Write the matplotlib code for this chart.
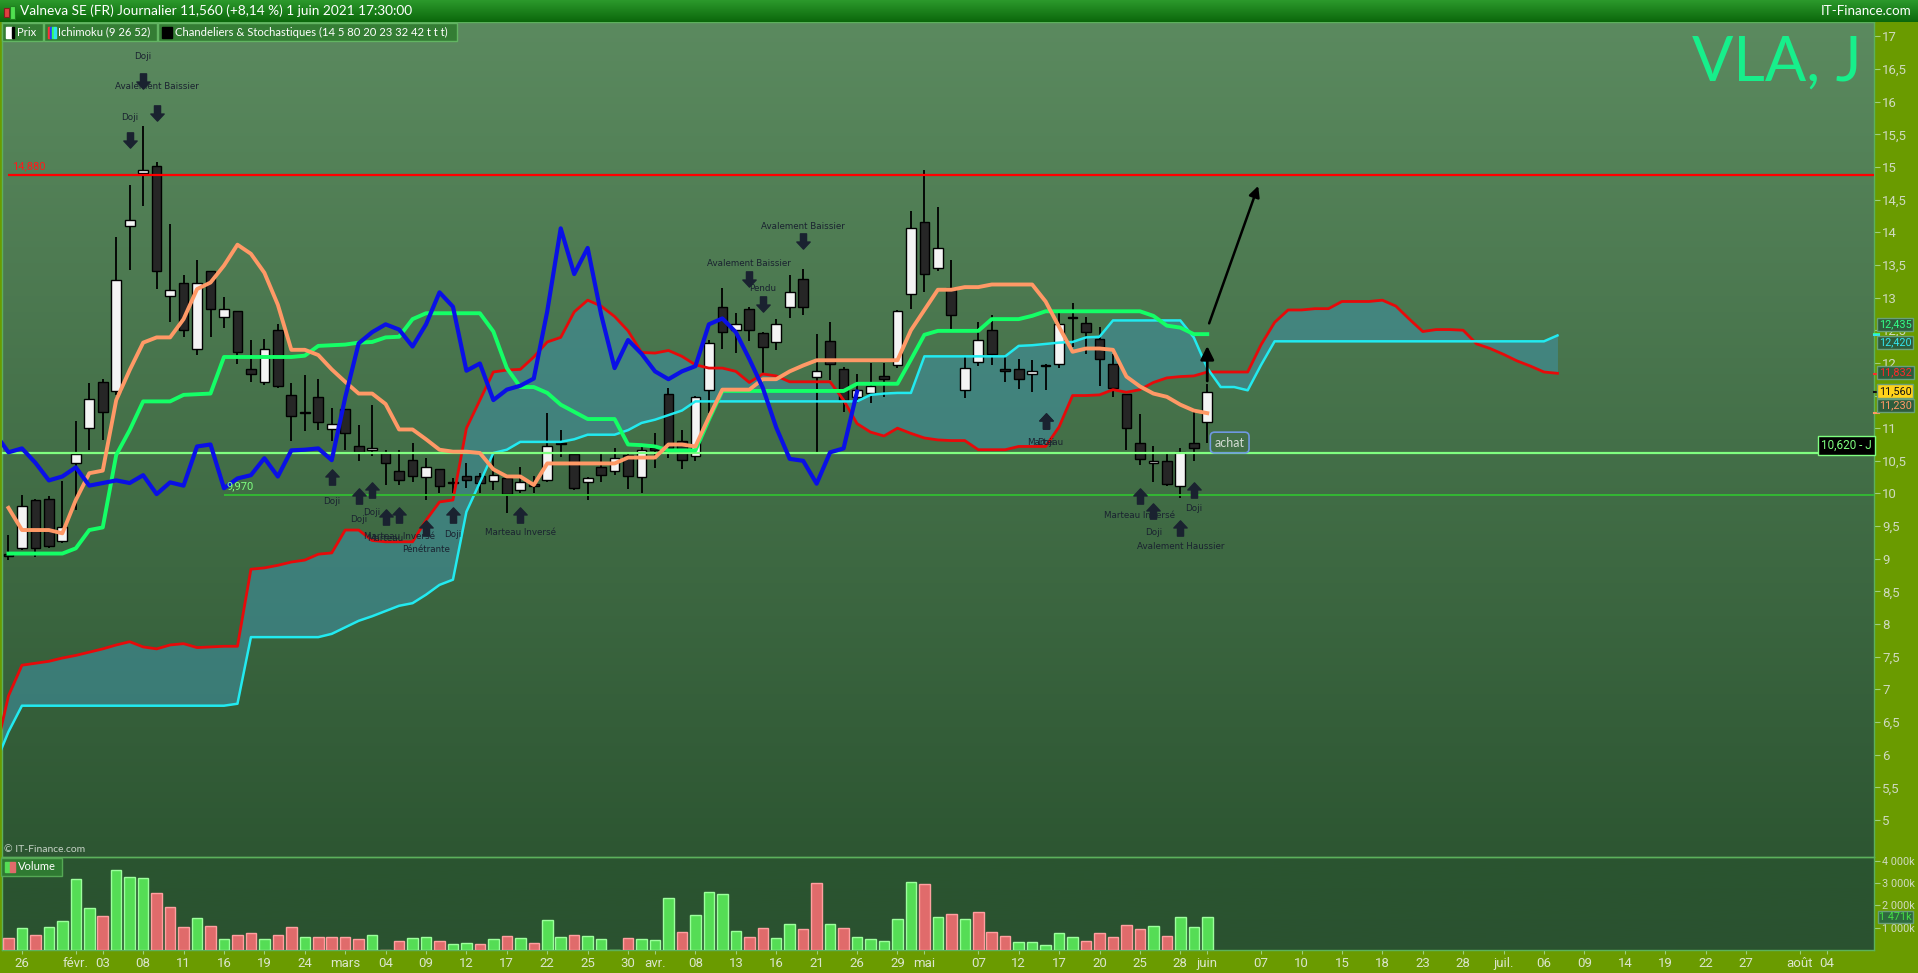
import numpy as np
import pandas as pd
import matplotlib
matplotlib.use("Agg")
import matplotlib.pyplot as plt
import matplotlib.colors as mcolors
from matplotlib.path import Path
from matplotlib import transforms
from matplotlib.patches import Rectangle

W, H = 1918, 973

# ---------------- data (Valneva, daily) ----------------
opens = [9.08, 9.16, 9.90, 9.92, 9.27, 10.46, 11.00, 11.71, 11.57, 14.10,
         14.90, 15.02, 13.02, 13.23, 12.22, 13.41, 12.70, 12.79, 11.91, 11.70,
         12.50, 11.51, 11.23, 11.47, 10.99, 11.29, 10.72, 10.67, 10.62, 10.34,
         10.51, 10.25, 10.37, 10.17, 10.27, 10.26, 10.19, 10.24, 10.05, 10.13,
         10.21, 10.76, 10.60, 10.17, 10.40, 10.34, 10.59, 10.25, 10.68, 11.52,
         10.80, 10.57, 11.58, 12.86, 12.50, 12.83, 12.45, 12.32, 12.86, 13.29,
         11.78, 12.34, 11.91, 11.48, 11.54, 11.80, 11.97, 13.05, 14.16, 13.45,
         13.14, 11.59, 12.01, 12.50, 11.91, 11.91, 11.83, 11.97, 11.98, 12.70,
         12.61, 12.37, 11.99, 11.52, 10.77, 10.46, 10.50, 10.11, 10.77, 11.09]
highs = [9.37, 9.98, 9.92, 9.96, 10.19, 11.11, 11.69, 11.75, 13.92, 14.72,
         15.62, 15.08, 14.13, 13.35, 13.58, 13.41, 13.01, 12.80, 12.35, 12.36,
         12.60, 11.69, 11.81, 11.75, 11.31, 11.30, 11.05, 11.36, 10.66, 10.67,
         10.78, 10.55, 10.38, 10.23, 10.46, 10.32, 10.62, 10.26, 10.41, 10.26,
         11.23, 10.97, 10.62, 10.25, 10.62, 10.69, 10.64, 10.72, 10.92, 11.61,
         10.97, 11.49, 12.35, 13.14, 12.77, 12.85, 12.47, 12.67, 13.35, 13.44,
         12.44, 12.62, 11.94, 11.83, 12.00, 12.00, 12.81, 14.32, 14.95, 14.38,
         13.58, 12.10, 12.62, 12.73, 12.10, 12.06, 12.04, 11.98, 12.76, 12.91,
         12.71, 12.55, 12.14, 11.53, 11.21, 10.73, 10.62, 10.69, 11.27, 11.68]
lows = [8.98, 9.14, 9.03, 9.16, 9.24, 9.75, 10.67, 10.82, 11.51, 13.42,
        14.40, 13.13, 12.62, 12.40, 12.12, 12.39, 12.53, 11.99, 11.70, 11.66,
        11.61, 10.80, 10.95, 10.97, 10.80, 10.67, 10.49, 10.57, 10.13, 10.13,
        10.17, 9.90, 10.00, 10.00, 10.08, 10.01, 10.05, 9.70, 10.00, 10.00,
        10.17, 10.56, 10.06, 9.90, 10.18, 10.28, 10.07, 10.00, 10.39, 10.55,
        10.37, 10.49, 11.23, 12.22, 12.15, 12.33, 11.84, 12.19, 12.68, 12.73,
        10.64, 11.74, 11.25, 11.38, 11.38, 11.47, 11.92, 12.82, 13.08, 13.40,
        12.50, 11.46, 11.95, 11.97, 11.70, 11.60, 11.56, 11.58, 11.92, 12.25,
        12.14, 11.64, 11.47, 10.67, 10.44, 10.17, 10.11, 9.93, 10.50, 10.77]
closes = [9.05, 9.81, 9.17, 9.20, 9.48, 10.60, 11.45, 11.25, 13.27, 14.19,
          14.96, 13.40, 13.11, 12.50, 13.22, 12.82, 12.83, 12.16, 11.83, 12.22,
          11.65, 11.19, 11.24, 11.10, 11.06, 10.92, 10.63, 10.69, 10.47, 10.20,
          10.26, 10.40, 10.12, 10.16, 10.20, 10.16, 10.28, 9.99, 10.17, 10.12,
          10.72, 10.75, 10.08, 10.23, 10.28, 10.54, 10.26, 10.66, 10.67, 10.69,
          10.51, 11.47, 12.30, 12.47, 12.59, 12.51, 12.25, 12.59, 13.08, 12.86,
          11.88, 11.99, 11.43, 11.59, 11.65, 11.76, 12.79, 14.06, 13.36, 13.76,
          12.74, 11.92, 12.35, 12.14, 11.87, 11.75, 11.87, 11.95, 12.59, 12.68,
          12.47, 12.06, 11.62, 11.01, 10.53, 10.50, 10.15, 10.63, 10.69, 11.56]

# volume in millions, and bar colour (1 = green, 0 = red)
volumes_m = [0.52, 0.97, 0.66, 1.02, 1.30, 3.17, 1.87, 1.51, 3.57, 3.26,
             3.21, 2.54, 1.91, 1.02, 1.42, 1.06, 0.48, 0.66, 0.75, 0.48,
             0.66, 1.02, 0.57, 0.57, 0.57, 0.57, 0.48, 0.66, 0.00, 0.39,
             0.52, 0.57, 0.39, 0.25, 0.30, 0.25, 0.48, 0.61, 0.52, 0.30,
             1.33, 0.57, 0.66, 0.61, 0.48, 0.00, 0.52, 0.48, 0.43, 2.31,
             0.79, 1.55, 2.58, 2.49, 0.84, 0.57, 0.97, 0.52, 1.15, 0.93,
             2.99, 1.15, 0.97, 0.57, 0.48, 0.39, 1.37, 3.03, 2.94, 1.46,
             1.60, 1.37, 1.69, 0.79, 0.61, 0.34, 0.34, 0.21, 0.75, 0.57,
             0.39, 0.75, 0.57, 1.10, 0.93, 1.06, 0.61, 1.46, 1.02, 1.47]
volume_up = ("0101111011" "1000101001" "0010000100" "1101101010"
             "1101110111" "0111100110" "0101111101" "0100011111"
             "0000010111")

# Ichimoku (9 26 52)
tenkan = [9.78, 9.44, 9.44, 9.44, 9.39, 9.90, 10.31, 10.35, 11.43, 11.89,
          12.31, 12.39, 12.39, 12.67, 13.13, 13.23, 13.49, 13.81, 13.67, 13.38,
          12.89, 12.20, 12.20, 12.12, 11.90, 11.71, 11.53, 11.53, 11.37, 10.98,
          10.98, 10.83, 10.67, 10.64, 10.64, 10.62, 10.37, 10.26, 10.26, 10.13,
          10.46, 10.46, 10.46, 10.46, 10.46, 10.46, 10.55, 10.55, 10.55, 10.75,
          10.75, 10.72, 11.17, 11.59, 11.59, 11.59, 11.75, 11.75, 11.87, 11.96,
          12.04, 12.04, 12.04, 12.04, 12.04, 12.04, 12.04, 12.50, 12.81, 13.12,
          13.12, 13.16, 13.16, 13.20, 13.20, 13.20, 13.20, 12.94, 12.55, 12.17,
          12.22, 12.22, 12.20, 11.79, 11.64, 11.53, 11.48, 11.36, 11.27, 11.23]
kijun = [9.08, 9.08, 9.08, 9.08, 9.08, 9.16, 9.44, 9.48, 10.59, 10.97,
         11.41, 11.41, 11.41, 11.51, 11.52, 11.53, 12.09, 12.09, 12.09, 12.09,
         12.09, 12.09, 12.11, 12.26, 12.27, 12.28, 12.31, 12.32, 12.39, 12.40,
         12.67, 12.76, 12.76, 12.76, 12.76, 12.76, 12.48, 11.92, 11.63, 11.63,
         11.54, 11.36, 11.25, 11.14, 11.14, 11.14, 10.75, 10.74, 10.72, 10.66,
         10.66, 10.66, 11.13, 11.57, 11.57, 11.57, 11.57, 11.57, 11.57, 11.57,
         11.57, 11.57, 11.57, 11.68, 11.68, 11.68, 11.68, 12.05, 12.43, 12.49,
         12.49, 12.49, 12.49, 12.67, 12.67, 12.67, 12.72, 12.79, 12.79, 12.79,
         12.79, 12.79, 12.79, 12.79, 12.79, 12.72, 12.57, 12.54, 12.44, 12.44]
# senkou spans: from one day before the first candle to 26 days past the last
senkou_a = [6.00, 6.90, 7.37, 7.40, 7.43, 7.48, 7.52, 7.57, 7.62, 7.68,
            7.73, 7.65, 7.62, 7.68, 7.70, 7.64, 7.65, 7.66, 7.66,
            8.84, 8.86, 8.90, 8.95, 8.98, 9.07, 9.09, 9.44, 9.44, 9.28,
            9.26, 9.26, 9.26, 9.59, 9.87, 9.90,
            11.00, 11.43, 11.86, 11.89, 11.90, 12.09, 12.32, 12.39, 12.78, 12.96,
            12.87, 12.71, 12.49, 12.16, 12.15, 12.19, 12.10, 11.97,
            11.92, 11.92, 11.87, 11.70, 11.83, 11.80, 11.71, 11.71, 11.71, 11.71,
            11.43, 11.07, 10.94, 10.88, 11.00, 10.92, 10.85, 10.82, 10.81, 10.81,
            10.67, 10.67, 10.67, 10.72, 10.72, 10.72, 11.02, 11.50, 11.50, 11.51,
            11.59, 11.55, 11.59, 11.70, 11.77, 11.79, 11.80, 11.86,
            11.86, 11.86, 11.86, 12.28, 12.62, 12.81, 12.81, 12.83, 12.83, 12.94,
            12.94, 12.94, 12.96, 12.87, 12.67, 12.48, 12.51, 12.51, 12.50, 12.29,
            12.22, 12.13, 12.03, 11.95, 11.86, 11.84]
senkou_b = [5.85, 6.35, 6.75, 6.75, 6.75, 6.75, 6.75, 6.75, 6.75, 6.75,
            6.75, 6.75, 6.75, 6.75, 6.75, 6.75, 6.75, 6.75, 6.78,
            7.80, 7.80, 7.80, 7.80, 7.80, 7.80, 7.85, 7.95, 8.05, 8.12,
            8.20, 8.28, 8.32, 8.45, 8.60, 8.68,
            9.72, 10.17, 10.62, 10.67, 10.79, 10.79, 10.79, 10.79, 10.83, 10.90,
            10.90, 10.90, 10.97, 11.08, 11.13, 11.20, 11.27, 11.41,
            11.41, 11.41, 11.41, 11.41, 11.41, 11.41, 11.41, 11.41, 11.41, 11.41,
            11.41, 11.41, 11.51, 11.53, 11.54, 11.54, 12.10, 12.10, 12.10, 12.10,
            12.10, 12.10, 12.10, 12.26, 12.27, 12.29, 12.31, 12.32, 12.39, 12.40,
            12.65, 12.65, 12.65, 12.65, 12.65, 12.65, 12.39, 11.92,
            11.63, 11.63, 11.58, 11.97, 12.33, 12.33, 12.33, 12.33, 12.33, 12.33,
            12.33, 12.33, 12.33, 12.33, 12.33, 12.33, 12.33, 12.33, 12.33, 12.33,
            12.33, 12.33, 12.33, 12.33, 12.33, 12.42]

resistance = 14.88
pivot = 10.62
support = 9.97
target = 14.75

# candle patterns: (day index, name, arrow offset px, text offset px)
bull_notes = [(24, "Doji", 36, 60), (26, "Doji", 35, 58), (27, "Doji", 34, 56),
              (28, "Marteau", 32, 54), (29, "Marteau Inversé", 30, 52),
              (31, "Pénétrante", 28, 49), (33, "Doji", 22, 41),
              (38, "Marteau Inversé", 22, 39), (77, "Marteau", 31, 52),
              (77, "Doji", 31, 52), (84, "Marteau Inversé", 31, 51),
              (85, "Doji", 29, 50), (87, "Avalement Haussier", 30, 48),
              (88, "Doji", 29, 48)]
bear_notes = [(9, "Doji", 45, 68), (10, "Doji", 45, 70),
              (11, "Avalement Baissier", 49, 75), (55, "Avalement Baissier", 28, 44),
              (56, "Pendu", 28, 44), (59, "Avalement Baissier", 28, 42)]

tick_dates = ["2021-01-26", "2021-02-01", "2021-02-03", "2021-02-08", "2021-02-11",
              "2021-02-16", "2021-02-19", "2021-02-24", "2021-03-01", "2021-03-04",
              "2021-03-09", "2021-03-12", "2021-03-17", "2021-03-22", "2021-03-25",
              "2021-03-30", "2021-04-01", "2021-04-08", "2021-04-13", "2021-04-16",
              "2021-04-21", "2021-04-26", "2021-04-29", "2021-05-03", "2021-05-07",
              "2021-05-12", "2021-05-17", "2021-05-20", "2021-05-25", "2021-05-28",
              "2021-06-01", "2021-06-07", "2021-06-10", "2021-06-15", "2021-06-18",
              "2021-06-23", "2021-06-28", "2021-07-01", "2021-07-06", "2021-07-09",
              "2021-07-14", "2021-07-19", "2021-07-22", "2021-07-27", "2021-08-02",
              "2021-08-04"]
tick_labels = ["26", "févr.", "03", "08", "11", "16", "19", "24", "mars", "04",
               "09", "12", "17", "22", "25", "30", "avr.", "08", "13", "16",
               "21", "26", "29", "mai", "07", "12", "17", "20", "25", "28",
               "juin", "07", "10", "15", "18", "23", "28", "juil.", "06", "09",
               "14", "19", "22", "27", "août", "04"]

# ---------------- trading day positions ----------------
hist_days = pd.bdate_range("2021-01-25", "2021-06-01")
hist_days = hist_days[~hist_days.isin(pd.to_datetime(["2021-04-02", "2021-04-05"]))]
all_days = hist_days.append(pd.bdate_range("2021-06-02", "2021-08-09"))
day_pos = {d: k for k, d in enumerate(all_days)}
tick_idx = [day_pos[pd.Timestamp(d)] for d in tick_dates]

o, h, l, c = (np.array(v) for v in (opens, highs, lows, closes))
idx = np.arange(len(c))
span_x = np.arange(-1, len(senkou_a) - 1)
x_left, x_right = -0.48, 138.5

plt.rcParams["font.family"] = ["Lato", "DejaVu Sans"]
narrow = ["Liberation Sans Narrow", "Roboto", "DejaVu Sans"]

fig = plt.figure(figsize=(W / 100, H / 100), dpi=100)
fig.patch.set_facecolor("#6a9b00")


def fx(px):
    return px / W


def gradient_axes(left, top, right, bottom, c_top, c_bottom, z=0):
    a = fig.add_axes([fx(left), 1 - bottom / H, fx(right - left), (bottom - top) / H], zorder=z)
    t = np.linspace(0, 1, 256)[:, None, None]
    img = (1 - t) * np.array(mcolors.to_rgb(c_top)) + t * np.array(mcolors.to_rgb(c_bottom))
    a.imshow(img, aspect="auto", extent=(0, 1, 0, 1))
    a.set_axis_off()
    return a


def fig_box(left, top, width, height, fc, ec):
    fig.add_artist(Rectangle((fx(left), 1 - (top + height) / H), fx(width), height / H,
                             transform=fig.transFigure, fc=fc, ec=ec, lw=1, zorder=5))


# backgrounds
gradient_axes(2, 22, 1874, 857, "#5b8a5f", "#2d5632", z=0)
gradient_axes(2, 857, 1874, 950, "#2b5530", "#2a5230", z=0)
gradient_axes(0, 0, W, 22, "#2c9a2c", "#0b670b", z=2)

ax = fig.add_axes([fx(2), 1 - 857 / H, fx(1872), 835 / H], zorder=1)
axv = fig.add_axes([fx(2), 1 - 950 / H, fx(1872), 93 / H], zorder=1)
for a in (ax, axv):
    a.set_facecolor("none")
    for s in a.spines.values():
        s.set_color("#5cb15c")
        s.set_linewidth(1)
    a.set_xlim(x_left, x_right)

ax.set_ylim(4.433, 17.22)

# ---------------- Ichimoku cloud ----------------
ax.fill_between(span_x, senkou_a, senkou_b, color="#3f8f9f", alpha=0.6, lw=0, zorder=2)

# ---------------- candles ----------------
up = c >= o
ax.vlines(idx, l, h, color="black", lw=1.3, zorder=3)
body = np.maximum(np.abs(c - o), 0.02)
ax.bar(idx, body, bottom=np.minimum(o, c), width=0.72,
       color=["#f4f4f4" if u else "#262626" for u in up],
       edgecolor="black", lw=1, zorder=4)

# ---------------- lines ----------------
ax.plot(span_x, senkou_a, color="#e60a0a", lw=2.0, zorder=5)
ax.plot(span_x, senkou_b, color="#22eaf0", lw=1.8, zorder=5)
ax.plot(idx, kijun, color="#14ff66", lw=2.8, zorder=6)
ax.plot(idx, tenkan, color="#ff9966", lw=2.8, zorder=6)
ax.plot(idx[25:] - 26, c[25:], color="#0a10e6", lw=3.0, zorder=6)

ax.hlines(resistance, 0, x_right, color="#ff0000", lw=1.6, zorder=5)
ax.axhline(pivot, color="#80ff80", lw=1.6, zorder=5)
ax.hlines(support, 16, x_right, color="#33b833", lw=1.4, zorder=5)
ax.text(0.3, resistance + 0.05, "14,880", color="#ff1a1a", fontsize=8,
        family=narrow, va="bottom", zorder=7)
ax.text(16.2, support + 0.06, "9,970", color="#80ff80", fontsize=8,
        family=narrow, va="bottom", zorder=7)
ax.text(0.9987, pivot + 0.02, "10,620 - J", transform=ax.get_yaxis_transform(),
        ha="right", va="bottom", color="#80ff80", fontsize=8.5, family=narrow, zorder=9,
        bbox=dict(boxstyle="square,pad=0.25", fc="black", ec="#80ff80", lw=1))

# ---------------- pattern annotations ----------------
arrow_up = Path([(-0.4, -1), (0.4, -1), (0.4, 0.07), (0.87, 0.07), (0, 1),
                 (-0.87, 0.07), (-0.4, 0.07), (-0.4, -1)], closed=True)
arrow_down = Path([(x, -y) for x, y in arrow_up.vertices], closed=True)
note_color = "#1a2230"


def note(i, price, dy_arrow, dy_text, text, bullish):
    sign = -1 if bullish else 1
    tr = transforms.offset_copy(ax.transData, fig=fig, x=0, y=sign * dy_arrow, units="dots")
    ax.plot([i], [price], marker=arrow_up if bullish else arrow_down, ms=11,
            color=note_color, mec=note_color, transform=tr, zorder=8)
    ax.annotate(text, (i, price), xytext=(0, sign * dy_text), textcoords="offset pixels",
                ha="center", va="center", fontsize=6.3, family="DejaVu Sans",
                color=note_color, zorder=8)


for i, name, da, dt in bull_notes:
    note(i, lows[i], da, dt, name, True)
for i, name, da, dt in bear_notes:
    note(i, highs[i], da, dt, name, False)

last = idx[-1]
ax.annotate("", xy=(last, highs[-1] + 0.62), xytext=(last, highs[-1]),
            arrowprops=dict(arrowstyle="-|>", color="black", lw=2, mutation_scale=20), zorder=9)
ax.annotate("", xy=(last + 3.85, target), xytext=(last + 0.07, 12.565),
            arrowprops=dict(arrowstyle="-|>", color="black", lw=1.8, mutation_scale=16), zorder=9)
ax.text(last + 0.55, 10.78, "achat", color="#d4dcd4", fontsize=9, va="center", ha="left",
        zorder=9, bbox=dict(boxstyle="round,pad=0.35", fc="none", ec="#6f98e0", lw=1.2))

# ---------------- price axis ----------------
price_ticks = np.arange(5, 17.01, 0.5)
ax.yaxis.tick_right()
ax.set_yticks(price_ticks)
ax.set_yticklabels([f"{v:g}".replace(".", ",") for v in price_ticks], family=narrow)
ax.tick_params(axis="y", color="#9fcf7f", labelcolor="#cfdac0", labelsize=9.5, length=4, pad=2)
ax.tick_params(axis="x", bottom=False, labelbottom=False)

yax = ax.get_yaxis_transform()
value_boxes = [(12.435, 12.585, "12,435", "#33ff88", "#2e5c3c"),
               (12.420, 12.31, "12,420", "#33e6ee", "#2e5c3c"),
               (11.832, 11.85, "11,832", "#ff2a2a", "#2e5c3c"),
               (11.560, 11.57, "11,560", "#111111", "#ffd21a"),
               (11.230, 11.35, "11,230", "#ff9966", "#2e5c3c")]
for value, ypos, label, tc, fc in value_boxes:
    ax.plot([1.0, 1.0025], [value, value], transform=yax, color=tc if fc != "#ffd21a" else "#111111",
            lw=1.5, clip_on=False, zorder=10)
    ax.text(1.0027, ypos, label, transform=yax, ha="left", va="center", fontsize=7.8,
            family=narrow, color=tc, clip_on=False, zorder=11,
            bbox=dict(boxstyle="square,pad=0.15", fc=fc, ec="#6aa07a", lw=1))

# ---------------- volume ----------------
vol = np.array(volumes_m) * 1e6
vol_colors = ["#55dd55" if f == "1" else "#e06b6b" for f in volume_up]
vol_edges = ["#9cff9c" if f == "1" else "#ffa0a0" for f in volume_up]
axv.bar(idx, vol, width=0.78, color=vol_colors, edgecolor=vol_edges, lw=1, zorder=3)
axv.set_ylim(0, 4.165e6)
axv.yaxis.tick_right()
axv.set_yticks([1e6, 2e6, 3e6, 4e6])
axv.set_yticklabels(["1 000k", "2 000k", "3 000k", "4 000k"], family=narrow)
axv.tick_params(axis="y", color="#9fcf7f", labelcolor="#cfdac0", labelsize=7.8, length=4, pad=1.5)
axv.set_xticks(tick_idx)
axv.set_xticklabels(tick_labels, family=narrow)
axv.tick_params(axis="x", color="#9fcf7f", labelcolor="#dbe5cc", labelsize=9.5, length=3, pad=2)
axv.text(1.0027, vol[-1], "1 471k", transform=axv.get_yaxis_transform(), ha="left",
         va="center", fontsize=7.8, family=narrow, color="#44dd44", clip_on=False, zorder=11,
         bbox=dict(boxstyle="square,pad=0.12", fc="#2e6a3e", ec="#6aa07a", lw=1))

# ---------------- header, legends, watermark ----------------
fig.add_artist(Rectangle((fx(4), 1 - 17 / H), fx(5), 9 / H, transform=fig.transFigure,
                         fc="#e04040", ec="#802020", lw=0.8, zorder=6))
fig.add_artist(Rectangle((fx(10), 1 - 19 / H), fx(5), 13 / H, transform=fig.transFigure,
                         fc="#50e050", ec="#208020", lw=0.8, zorder=6))
fig.text(fx(20), 1 - 11 / H, "Valneva SE (FR) Journalier 11,560 (+8,14 %) 1 juin 2021 17:30:00",
         color="white", fontsize=9.8, va="center", ha="left", zorder=6)
fig.text(fx(1912), 1 - 11 / H, "IT-Finance.com", color="white", fontsize=9.6,
         va="center", ha="right", zorder=6)

fig_box(2, 23, 41, 18, "#347d34", "#62b562")
fig_box(44, 23, 113, 18, "#347d34", "#62b562")
fig_box(158, 23, 299, 18, "#347d34", "#62b562")
fig_box(6, 27, 6, 11, "white", "white")
fig_box(12, 27, 2, 11, "black", "black")
for k, col in enumerate(["#ff3030", "#2040ff", "#30ff60", "#30e0f0"]):
    fig_box(48 + 2 * k, 27, 2, 11, col, col)
fig_box(162, 27, 10, 11, "black", "black")
fig.text(fx(17), 1 - 32 / H, "Prix", color="white", fontsize=8.1, va="center", zorder=6)
fig.text(fx(58), 1 - 32 / H, "Ichimoku (9 26 52)", color="white", fontsize=8.1,
         va="center", zorder=6)
fig.text(fx(175), 1 - 32 / H, "Chandeliers & Stochastiques (14 5 80 20 23 32 42 t t t)",
         color="white", fontsize=8.1, va="center", zorder=6)

fig_box(1, 858, 61, 18, "#2f7a32", "#55a855")
fig_box(5, 862, 5, 10, "#55dd55", "#55dd55")
fig_box(10, 862, 5, 10, "#e06b6b", "#e06b6b")
fig.text(fx(18), 1 - 867 / H, "Volume", color="white", fontsize=8, va="center", zorder=6)

fig.text(fx(4), 1 - 850 / H, "© IT-Finance.com", color="#c6d2c6", fontsize=7.5,
         va="center", zorder=6)
fig.text(fx(1862), 1 - 63 / H, "VLA, J", color="#17ef8b", fontsize=44,
         va="center", ha="right", zorder=6)

fig.savefig("out.png", dpi=100, facecolor=fig.get_facecolor())
